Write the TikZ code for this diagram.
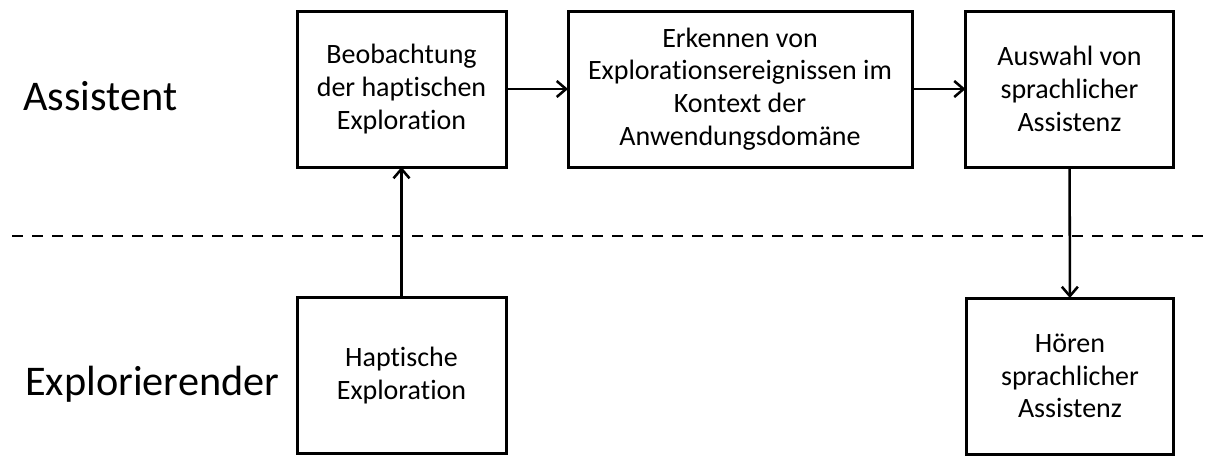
\documentclass[tikz,border=0pt]{standalone}
\usepackage{fontspec}
\setmainfont{Carlito}[Ligatures=NoCommon]
\usetikzlibrary{arrows.meta}
\begin{document}
\begin{tikzpicture}[x=0.75pt,y=-0.75pt,
  stagebox/.style={draw=black,line width=2.25pt,inner sep=0pt,outer sep=0pt,
    minimum height=117pt,align=center,
    font=\fontsize{21pt}{24.5pt}\selectfont},
  rolelabel/.style={anchor=base west,inner sep=0pt,
    font=\fontsize{31.7pt}{38pt}\selectfont},
  flow/.style={line width=1.9pt,-{Straight Barb[length=7pt,width=12pt,line width=1.9pt]}},
  lane/.style={line width=2pt,dash pattern=on 8.25pt off 6.75pt}]
  \useasboundingbox (0,0) rectangle (1207,455);

  % role labels and lane separator
  \node[rolelabel] (assist) at (23,110) {Assistent};
  \node[rolelabel] (explor) at (25,395) {Explorierender};
  \coordinate (laneL) at (12,236);
  \coordinate (laneR) at (1207,236);
  \draw[lane] (laneL) -- (laneR);

  % process steps
  \node[stagebox,minimum width=156.75pt] (obs) at (401.5,89) {Beobachtung\\der haptischen\\Exploration};
  \node[stagebox,minimum width=258pt] (detect) at (740,89) {Erkennen von\\Explorationsereignissen im\\Kontext der\\Anwendungsdomäne};
  \node[stagebox,minimum width=156pt] (select) at (1069.5,89) {Auswahl von\\sprachlicher\\Assistenz};
  \node[stagebox,minimum width=156.75pt] (haptic) at (401.5,375.5) {Haptische\\Exploration};
  \node[stagebox,minimum width=155.25pt] (hear) at (1070,376) {Hören\\sprachlicher\\Assistenz};

  % connectors
  \draw[flow] (haptic) -- (obs);
  \draw[flow] (obs) -- (detect);
  \draw[flow] (detect) -- (select);
  \draw[flow] (select) -- (hear);
\end{tikzpicture}
\end{document}
